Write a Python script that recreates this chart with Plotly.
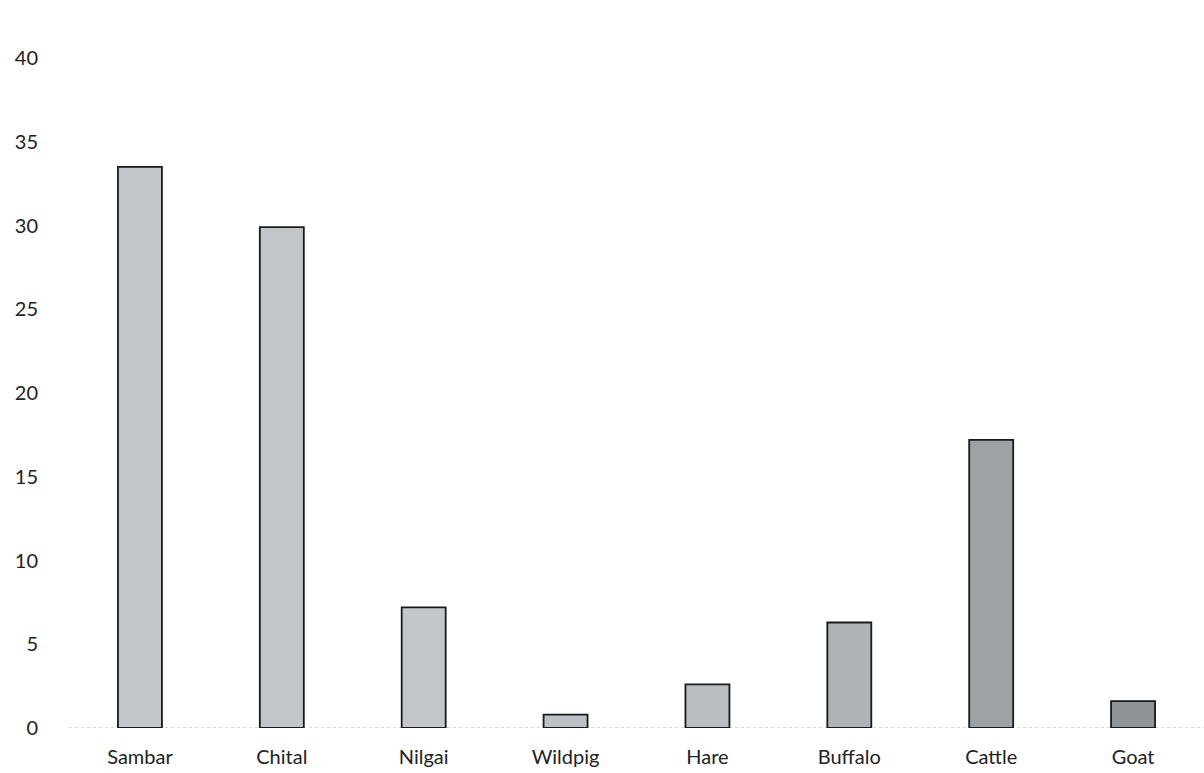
import plotly.graph_objects as go

categories = ["Sambar", "Chital", "Nilgai", "Wildpig", "Hare", "Buffalo", "Cattle", "Goat"]
values = [33.5, 29.9, 7.2, 0.8, 2.6, 6.3, 17.2, 1.6]
bar_colors = ["#c3c7ca", "#c2c6c9", "#c3c7ca", "#bdc1c5", "#babec1", "#afb3b5", "#9ea2a5", "#909497"]
y_ticks = [0, 5, 10, 15, 20, 25, 30, 35, 40]

fig = go.Figure()
fig.add_trace(go.Bar(
    x=categories, y=values, width=0.31,
    marker=dict(color=bar_colors, line=dict(color="#1a1a1a", width=1.8)),
    hoverinfo="x+y",
))

fig.add_shape(type="line", xref="paper", yref="y", x0=0, x1=1, y0=0, y1=0,
              line=dict(color="#b5b5b5", width=1.2, dash="dot"), layer="below")

fig.update_layout(
    width=1204, height=773,
    margin=dict(l=69, r=0, t=58, b=45),
    paper_bgcolor="white", plot_bgcolor="white",
    font=dict(family="Lato, 'Open Sans', sans-serif", size=20, color="#222222"),
    showlegend=False,
    bargap=0.69,
)
fig.update_yaxes(range=[0, 40], tickvals=y_ticks, showgrid=False, zeroline=False,
                 showline=False, ticks="", ticklabelstandoff=30)
fig.update_xaxes(showgrid=False, zeroline=False, showline=False, ticks="",
                 ticklabelstandoff=15)

fig.write_html("out.html")
